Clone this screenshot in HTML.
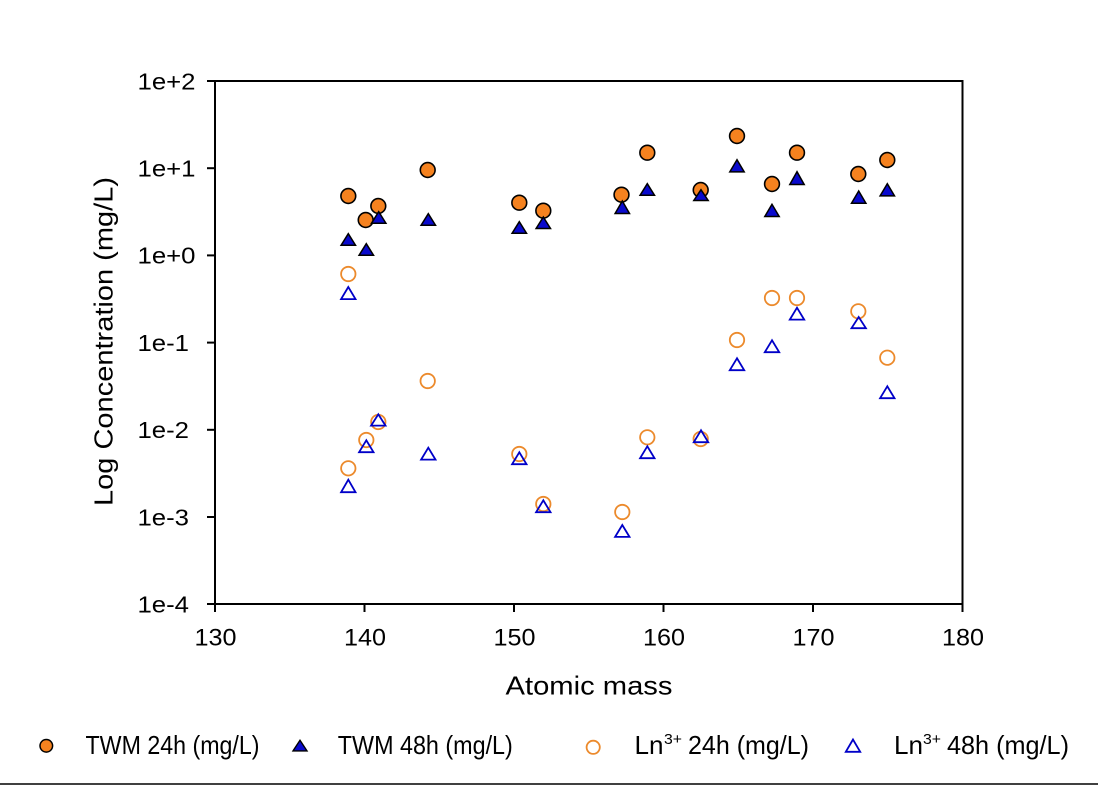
<!DOCTYPE html>
<html>
<head>
<meta charset="utf-8">
<style>
  html, body { margin: 0; padding: 0; background: #ffffff; }
  body { width: 1098px; height: 785px; overflow: hidden; }
  svg { display: block; }
  text { font-family: "Liberation Sans", Arial, sans-serif; fill: #000; }
</style>
</head>
<body>
<svg width="1098" height="785" viewBox="0 0 1098 785" xmlns="http://www.w3.org/2000/svg">
  <rect x="0" y="0" width="1098" height="785" fill="#ffffff"/>

  <!-- Plot frame -->
  <rect x="215" y="81" width="747.5" height="523" fill="none" stroke="#000" stroke-width="2"/>

  <!-- Y ticks -->
  <g stroke="#000" stroke-width="2">
    <line x1="207" y1="81" x2="215" y2="81"/>
    <line x1="207" y1="168.2" x2="215" y2="168.2"/>
    <line x1="207" y1="255.4" x2="215" y2="255.4"/>
    <line x1="207" y1="342.6" x2="215" y2="342.6"/>
    <line x1="207" y1="429.8" x2="215" y2="429.8"/>
    <line x1="207" y1="517" x2="215" y2="517"/>
    <line x1="207" y1="604" x2="215" y2="604"/>
  </g>
  <!-- X ticks -->
  <g stroke="#000" stroke-width="2">
    <line x1="215" y1="604" x2="215" y2="612"/>
    <line x1="364.5" y1="604" x2="364.5" y2="612"/>
    <line x1="514" y1="604" x2="514" y2="612"/>
    <line x1="663.5" y1="604" x2="663.5" y2="612"/>
    <line x1="813" y1="604" x2="813" y2="612"/>
    <line x1="962.5" y1="604" x2="962.5" y2="612"/>
  </g>

  <!-- Y tick labels -->
  <g font-size="23">
    <text x="137.5" y="89.3" textLength="58" lengthAdjust="spacingAndGlyphs">1e+2</text>
    <text x="137.5" y="176.5" textLength="58" lengthAdjust="spacingAndGlyphs">1e+1</text>
    <text x="137.5" y="263.7" textLength="58" lengthAdjust="spacingAndGlyphs">1e+0</text>
    <text x="137.5" y="350.9" textLength="51.5" lengthAdjust="spacingAndGlyphs">1e-1</text>
    <text x="137.5" y="438.1" textLength="51.5" lengthAdjust="spacingAndGlyphs">1e-2</text>
    <text x="137.5" y="525.3" textLength="51.5" lengthAdjust="spacingAndGlyphs">1e-3</text>
    <text x="137.5" y="612.5" textLength="51.5" lengthAdjust="spacingAndGlyphs">1e-4</text>
  </g>

  <!-- X tick labels -->
  <g font-size="24" text-anchor="middle">
    <text x="215.5" y="645.7" textLength="42" lengthAdjust="spacingAndGlyphs">130</text>
    <text x="365" y="645.7" textLength="42" lengthAdjust="spacingAndGlyphs">140</text>
    <text x="514.5" y="645.7" textLength="42" lengthAdjust="spacingAndGlyphs">150</text>
    <text x="664" y="645.7" textLength="42" lengthAdjust="spacingAndGlyphs">160</text>
    <text x="813.5" y="645.7" textLength="42" lengthAdjust="spacingAndGlyphs">170</text>
    <text x="963" y="645.7" textLength="42" lengthAdjust="spacingAndGlyphs">180</text>
  </g>

  <!-- Axis titles -->
  <text x="589" y="694.3" font-size="26" text-anchor="middle" textLength="167" lengthAdjust="spacingAndGlyphs">Atomic mass</text>
  <text transform="translate(112.5,341.5) rotate(-90)" x="0" y="0" font-size="26" text-anchor="middle" textLength="329" lengthAdjust="spacingAndGlyphs">Log Concentration (mg/L)</text>

  <!-- TWM 24h : filled orange circles -->
  <g fill="#F5821F" stroke="#000" stroke-width="1.6">
    <circle cx="348.3" cy="196" r="7.4"/>
    <circle cx="365.7" cy="220" r="7.4"/>
    <circle cx="378.3" cy="206" r="7.4"/>
    <circle cx="427.7" cy="170" r="7.4"/>
    <circle cx="519.3" cy="202.7" r="7.4"/>
    <circle cx="543.3" cy="210.7" r="7.4"/>
    <circle cx="621.5" cy="194.7" r="7.4"/>
    <circle cx="647.3" cy="152.7" r="7.4"/>
    <circle cx="700.7" cy="190" r="7.4"/>
    <circle cx="737" cy="136" r="7.4"/>
    <circle cx="772" cy="184" r="7.4"/>
    <circle cx="797" cy="152.7" r="7.4"/>
    <circle cx="858.3" cy="174" r="7.4"/>
    <circle cx="887.3" cy="160" r="7.4"/>
  </g>

  <!-- TWM 48h : filled blue triangles -->
  <g fill="#0A0ACD" stroke="#000" stroke-width="1.5" stroke-linejoin="miter">
    <polygon points="348.3,233.7 341.1,245.2 355.5,245.2"/>
    <polygon points="366.3,243.7 359.1,255.2 373.5,255.2"/>
    <polygon points="378.7,211.7 371.5,223.2 385.9,223.2"/>
    <polygon points="428.3,213.7 421.1,225.2 435.5,225.2"/>
    <polygon points="519.3,221.7 512.1,233.2 526.5,233.2"/>
    <polygon points="543.3,217 536.1,228.5 550.5,228.5"/>
    <polygon points="622.3,201 615.1,213.5 629.5,213.5"/>
    <polygon points="647.3,183.7 640.1,195.2 654.5,195.2"/>
    <polygon points="701,189.7 693.8,200.5 708.2,200.5"/>
    <polygon points="737,159.7 729.8,171.9 744.2,171.9"/>
    <polygon points="772,204.3 764.8,216.5 779.2,216.5"/>
    <polygon points="797,171.7 789.8,184.5 804.2,184.5"/>
    <polygon points="858.7,191 851.5,203.2 865.9,203.2"/>
    <polygon points="887.3,183.7 880.1,195.9 894.5,195.9"/>
  </g>

  <!-- Ln3+ 24h : open orange circles -->
  <g fill="none" stroke="#EC8A2C" stroke-width="1.8">
    <circle cx="348.3" cy="274" r="7.2"/>
    <circle cx="348.3" cy="468.3" r="7.2"/>
    <circle cx="366.3" cy="440" r="7.2"/>
    <circle cx="378.3" cy="422" r="7.2"/>
    <circle cx="427.7" cy="381" r="7.2"/>
    <circle cx="519.3" cy="454" r="7.2"/>
    <circle cx="543.3" cy="504" r="7.2"/>
    <circle cx="622.3" cy="512" r="7.2"/>
    <circle cx="647.3" cy="437.3" r="7.2"/>
    <circle cx="700.7" cy="439" r="7.2"/>
    <circle cx="737" cy="340" r="7.2"/>
    <circle cx="772" cy="298" r="7.2"/>
    <circle cx="797" cy="298" r="7.2"/>
    <circle cx="858.3" cy="311.3" r="7.2"/>
    <circle cx="887.3" cy="357.7" r="7.2"/>
  </g>

  <!-- Ln3+ 48h : open blue triangles -->
  <g fill="none" stroke="#0000C8" stroke-width="1.8" stroke-linejoin="miter">
    <polygon points="348.3,287 341.1,299.1 355.5,299.1"/>
    <polygon points="348.3,479.7 341.1,492.2 355.5,492.2"/>
    <polygon points="366.3,440.3 359.1,452.2 373.5,452.2"/>
    <polygon points="378.3,414.3 371.1,425.6 385.5,425.6"/>
    <polygon points="428.3,447.7 421.1,459.6 435.5,459.6"/>
    <polygon points="519.3,452.3 512.1,464.2 526.5,464.2"/>
    <polygon points="543.3,500.3 536.1,512.2 550.5,512.2"/>
    <polygon points="622.3,525 615.1,536.9 629.5,536.9"/>
    <polygon points="647.3,446.3 640.1,458.2 654.5,458.2"/>
    <polygon points="701,430.3 693.8,442.2 708.2,442.2"/>
    <polygon points="737,358.3 729.8,370.2 744.2,370.2"/>
    <polygon points="772,340.3 764.8,352.2 779.2,352.2"/>
    <polygon points="797,307.7 789.8,319.6 804.2,319.6"/>
    <polygon points="858.7,317 851.5,328.2 865.9,328.2"/>
    <polygon points="887.3,386.3 880.1,398.2 894.5,398.2"/>
  </g>

  <!-- Legend -->
  <circle cx="46.3" cy="745.8" r="6.3" fill="#F5821F" stroke="#000" stroke-width="1.5"/>
  <text x="85.5" y="754" font-size="26" textLength="174" lengthAdjust="spacingAndGlyphs">TWM 24h (mg/L)</text>

  <polygon points="300,740.3 293,750.9 307,750.9" fill="#0A0ACD" stroke="#000" stroke-width="1.4"/>
  <text x="337.8" y="754" font-size="26" textLength="175" lengthAdjust="spacingAndGlyphs">TWM 48h (mg/L)</text>

  <circle cx="593.2" cy="747.3" r="6.6" fill="none" stroke="#EC8A2C" stroke-width="1.8"/>
  <text x="634.5" y="754" font-size="26" textLength="29" lengthAdjust="spacingAndGlyphs">Ln</text>
  <text x="664" y="744" font-size="15" textLength="18" lengthAdjust="spacingAndGlyphs">3+</text>
  <text x="688" y="754" font-size="26" textLength="121" lengthAdjust="spacingAndGlyphs">24h (mg/L)</text>

  <polygon points="853,739.5 845.8,751.8 860.2,751.8" fill="none" stroke="#0000C8" stroke-width="1.8"/>
  <text x="894" y="754" font-size="26" textLength="29" lengthAdjust="spacingAndGlyphs">Ln</text>
  <text x="923" y="744" font-size="15" textLength="18" lengthAdjust="spacingAndGlyphs">3+</text>
  <text x="947" y="754" font-size="26" textLength="122" lengthAdjust="spacingAndGlyphs">48h (mg/L)</text>

  <!-- Bottom rule -->
  <line x1="0" y1="784" x2="1098" y2="784" stroke="#000" stroke-width="1.5"/>
</svg>
</body>
</html>
